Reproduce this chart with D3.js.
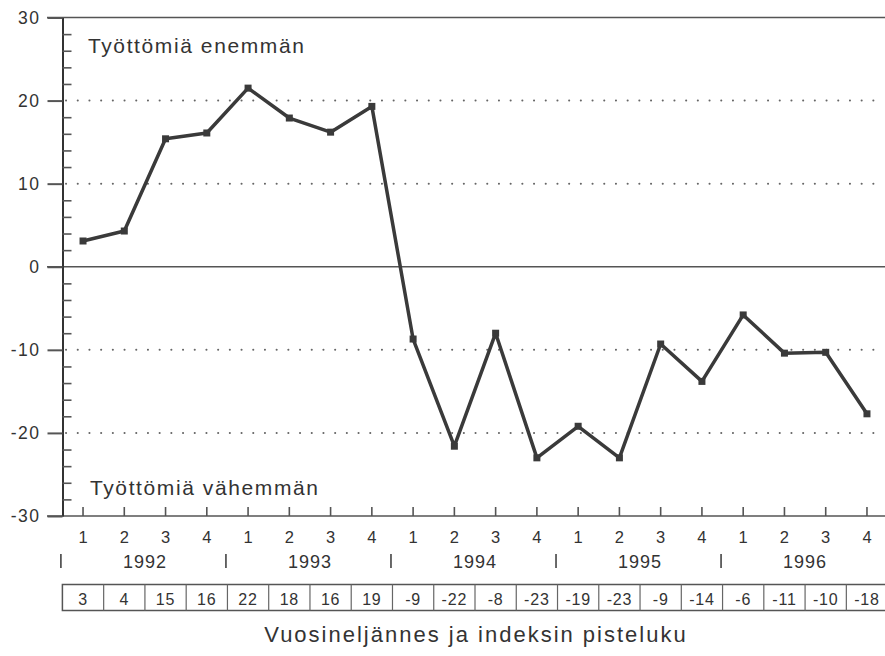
<!DOCTYPE html>
<html>
<head>
<meta charset="utf-8">
<script src="https://cdn.jsdelivr.net/npm/d3@7"></script>
<style>
  html, body { margin: 0; padding: 0; background: #fff; }
  svg { display: block; }
  text { font-family: "Liberation Sans", Arial, Helvetica, sans-serif; fill: #333; }
</style>
</head>
<body>
<script>
// ---- Data ----
const quarters = ["1","2","3","4","1","2","3","4","1","2","3","4","1","2","3","4","1","2","3","4"];
const years = ["1992","1993","1994","1995","1996"];
const plotted = [3.1, 4.3, 15.4, 16.1, 21.5, 17.9, 16.2, 19.3, -8.7, -21.6, -8.0, -23.0, -19.2, -23.0, -9.3, -13.8, -5.8, -10.4, -10.3, -17.7];
const tableValues = [3, 4, 15, 16, 22, 18, 16, 19, -9, -22, -8, -23, -19, -23, -9, -14, -6, -11, -10, -18];
const yTicks = [-30, -20, -10, 0, 10, 20, 30];
const gridValues = [-20, -10, 10, 20];
const solidValues = [-30, 0, 30];
const topLabel = "Työttömiä enemmän";
const bottomLabel = "Työttömiä vähemmän";
const axisTitle = "Vuosineljännes ja indeksin pisteluku";

// ---- Setup ----
const W = 885, H = 656;
const svg = d3.select("body").append("svg").attr("width", W).attr("height", H);
const ink = "#333";

const y = d3.scaleLinear().domain([-30, 30]).range([516, 17.5]);
const x = d3.scaleBand().domain(d3.range(quarters.length)).range([62.4, 887.6]).padding(0);
const bw = x.bandwidth();
const cx = i => x(i) + bw / 2;

// Solid full-width lines (top, zero, bottom)
svg.append("g").selectAll("line").data(solidValues).join("line")
  .attr("x1", 47).attr("x2", W)
  .attr("y1", d => y(d)).attr("y2", d => y(d))
  .attr("stroke", "#555").attr("stroke-width", 1.6);

// Dotted gridlines
svg.append("g").selectAll("line").data(gridValues).join("line")
  .attr("x1", 66).attr("x2", W)
  .attr("y1", d => y(d)).attr("y2", d => y(d))
  .attr("stroke", "#666").attr("stroke-width", 2)
  .attr("stroke-linecap", "round")
  .attr("stroke-dasharray", "0.1,11.6");

// Y axis
const yAxis = d3.axisLeft(y).tickValues(yTicks).tickSizeInner(15).tickSizeOuter(0)
  .tickPadding(7).tickFormat(d => String(d));
const gy = svg.append("g").attr("transform", "translate(62.5,0)").call(yAxis);
gy.select(".domain").attr("stroke", ink).attr("stroke-width", 2);
gy.selectAll(".tick line").attr("stroke", "#555").attr("stroke-width", 2);
gy.selectAll(".tick text").attr("font-size", 17.5).style("letter-spacing", "1.5px")
  .attr("font-family", "'Liberation Sans', Arial, sans-serif").attr("fill", ink);

// Minor ticks
const minors = d3.range(-28, 30, 2).filter(d => d % 10 !== 0);
const gm = svg.append("g").attr("transform", "translate(62.5,0)")
  .call(d3.axisRight(y).tickValues(minors).tickSizeInner(9).tickSizeOuter(0).tickFormat(""));
gm.select(".domain").remove();
gm.selectAll(".tick line").attr("stroke", "#555").attr("stroke-width", 1.6);

// X axis (quarters)
const xAxis = d3.axisBottom(x).tickSizeInner(-9).tickSizeOuter(0).tickPadding(15)
  .tickFormat(i => quarters[i]);
const gx = svg.append("g").attr("transform", `translate(0,${y(-30)})`).call(xAxis);
gx.select(".domain").remove();
gx.selectAll(".tick line").attr("stroke", "#555").attr("stroke-width", 1.6);
gx.selectAll(".tick text").attr("font-size", 16.5)
  .attr("font-family", "'Liberation Sans', Arial, sans-serif").attr("fill", ink);

// Year labels
svg.append("g").selectAll("text").data(years).join("text")
  .attr("x", (d, i) => x(i * 4) + 2 * bw)
  .attr("y", 567.5)
  .attr("text-anchor", "middle")
  .attr("font-size", 18)
  .style("letter-spacing", "1px")
  .text(d => d);

// Year separators
const sepIdx = d3.range(years.length + 1);
svg.append("g").selectAll("line").data(sepIdx).join("line")
  .attr("x1", i => (i < years.length ? x(i * 4) : x(quarters.length - 1) + bw) - 1.5)
  .attr("x2", i => (i < years.length ? x(i * 4) : x(quarters.length - 1) + bw) - 1.5)
  .attr("y1", 554).attr("y2", 568)
  .attr("stroke", "#444").attr("stroke-width", 1.6);

// Value table
const tTop = 584.5, tBot = 610.5;
const gt = svg.append("g");
gt.append("rect")
  .attr("x", x(0)).attr("y", tTop)
  .attr("width", x(quarters.length - 1) + bw - x(0)).attr("height", tBot - tTop)
  .attr("fill", "none").attr("stroke", "#555").attr("stroke-width", 1.5);
gt.selectAll("line").data(d3.range(1, quarters.length)).join("line")
  .attr("x1", i => x(i)).attr("x2", i => x(i))
  .attr("y1", tTop).attr("y2", tBot)
  .attr("stroke", "#666").attr("stroke-width", 1.2);
gt.selectAll("text").data(tableValues).join("text")
  .attr("x", (d, i) => cx(i))
  .attr("y", 605)
  .attr("text-anchor", "middle")
  .attr("font-size", 16)
  .style("letter-spacing", "0.8px")
  .text(d => String(d));

// Series line
const line = d3.line().x((d, i) => cx(i)).y(d => y(d));
svg.append("path").datum(plotted)
  .attr("d", line)
  .attr("fill", "none")
  .attr("stroke", "#3a3a3a")
  .attr("stroke-width", 3.5)
  .attr("stroke-linejoin", "round");

svg.append("g").selectAll("rect").data(plotted).join("rect")
  .attr("x", (d, i) => cx(i) - 3.5)
  .attr("y", d => y(d) - 3.5)
  .attr("width", 7).attr("height", 7)
  .attr("fill", "#3a3a3a");

// Annotations
svg.append("text").attr("x", 88).attr("y", 53)
  .attr("font-size", 21).style("letter-spacing", "1.6px").text(topLabel);
svg.append("text").attr("x", 90).attr("y", 495)
  .attr("font-size", 21).style("letter-spacing", "1.6px").text(bottomLabel);

// Axis title
svg.append("text").attr("x", 476).attr("y", 642)
  .attr("text-anchor", "middle")
  .attr("font-size", 22).style("letter-spacing", "2px").text(axisTitle);
</script>
</body>
</html>
